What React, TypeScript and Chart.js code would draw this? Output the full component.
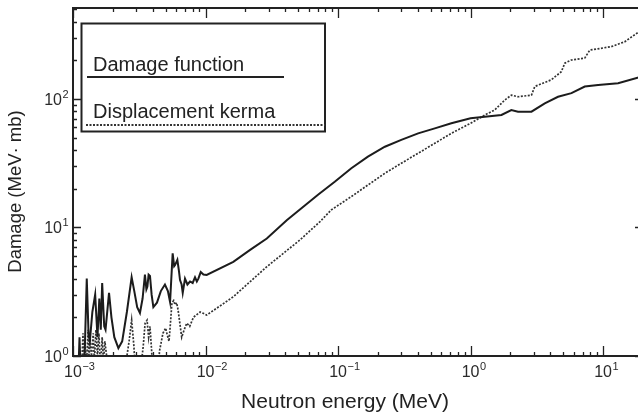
import React, { useEffect, useRef } from 'react';
import { Chart, registerables } from 'chart.js';

Chart.register(...registerables);

// ---- data (energy in MeV, damage in MeV·mb) ----
const damageEnergy = [
  1.0e-3, 1.10e-3, 1.12e-3, 1.14e-3, 1.22e-3, 1.27e-3, 1.31e-3, 1.34e-3, 1.40e-3, 1.47e-3,
  1.53e-3, 1.58e-3, 1.62e-3, 1.66e-3, 1.72e-3, 1.76e-3, 1.87e-3, 1.95e-3, 2.05e-3, 2.20e-3,
  2.35e-3, 2.55e-3, 2.77e-3, 2.90e-3, 3.05e-3, 3.20e-3, 3.35e-3, 3.49e-3, 3.58e-3, 3.64e-3,
  3.72e-3, 3.81e-3, 3.92e-3, 4.04e-3, 4.30e-3, 4.60e-3, 4.94e-3, 5.20e-3, 5.40e-3, 5.65e-3,
  5.80e-3, 5.89e-3, 6.13e-3, 6.30e-3, 6.42e-3, 6.60e-3, 6.73e-3, 7.00e-3, 7.30e-3, 7.64e-3,
  8.00e-3, 8.33e-3, 8.60e-3, 8.83e-3, 9.20e-3, 9.64e-3, 1.02e-2, 1.62e-2, 2.17e-2, 2.9e-2,
  4.1e-2, 7.06e-2, 9.44e-2, 0.126, 0.168, 0.2256, 0.30, 0.402, 0.537, 0.716,
  1.0, 1.28, 1.71, 2.03, 2.28, 2.88, 3.63, 4.57, 5.77, 7.27,
  9.17, 12.97, 20.0,
];
const damageValue = [
  0.8, 0.8, 1.4, 0.8, 0.9, 4.0, 1.5, 1.3, 2.2, 3.0,
  1.4, 2.8, 1.6, 3.7, 1.7, 1.6, 3.1, 2.0, 1.4, 1.15,
  1.3, 2.2, 4.1, 3.2, 2.4, 2.16, 2.8, 4.3, 3.3, 3.45,
  4.3, 4.2, 3.0, 2.4, 2.6, 3.2, 3.6, 3.2, 2.63, 6.3,
  5.0, 5.1, 5.6, 4.6, 3.9, 3.6, 3.1, 4.0, 3.6, 3.8,
  3.7, 4.1, 3.8, 4.0, 4.5, 4.3, 4.27, 5.4, 6.7, 8.2,
  11.4, 18.0, 22.7, 28.9, 35.6, 42.5, 48, 54, 59, 64.7,
  70.8, 72.8, 75, 82, 79.6, 79.6, 92.5, 104, 111, 125,
  128.5, 132.5, 150,
];

const kermaEnergy = [
  1.0e-3, 1.15e-3, 1.19e-3, 1.21e-3, 1.23e-3, 1.26e-3, 1.30e-3, 1.32e-3, 1.34e-3, 1.38e-3,
  1.42e-3, 1.45e-3, 1.49e-3, 1.53e-3, 1.57e-3, 1.61e-3, 1.66e-3, 1.70e-3, 1.74e-3, 1.84e-3,
  1.97e-3, 2.20e-3, 2.47e-3, 2.65e-3, 2.77e-3, 2.88e-3, 2.99e-3, 3.20e-3, 3.39e-3, 3.50e-3,
  3.62e-3, 3.72e-3, 3.81e-3, 3.92e-3, 4.01e-3, 4.28e-3, 4.50e-3, 4.77e-3, 5.00e-3, 5.11e-3,
  5.30e-3, 5.39e-3, 5.58e-3, 5.75e-3, 5.89e-3, 6.05e-3, 6.20e-3, 6.40e-3, 6.61e-3, 6.90e-3,
  7.22e-3, 7.60e-3, 8.10e-3, 8.60e-3, 9.10e-3, 9.60e-3, 1.02e-2, 1.62e-2, 2.9e-2, 5.16e-2,
  7.31e-2, 8.89e-2, 0.126, 0.168, 0.2256, 0.30, 0.402, 0.537, 0.716, 1.0,
  1.28, 1.52, 1.81, 2.03, 2.28, 2.88, 3.05, 4.07, 4.84, 5.14,
  5.77, 7.27, 7.94, 11.5, 14.6, 20.0,
];
const kermaValue = [
  0.5, 0.6, 1.5, 0.7, 1.3, 0.8, 1.6, 0.9, 1.4, 1.0,
  1.5, 0.9, 1.6, 1.0, 1.5, 0.8, 1.4, 0.9, 1.3, 0.8,
  0.6, 0.5, 0.8, 1.3, 1.9, 1.2, 0.6, 0.7, 1.2, 1.8,
  1.9, 1.4, 1.7, 1.1, 0.7, 0.6, 1.1, 1.5, 1.65, 1.5,
  1.3, 1.6, 2.6, 2.7, 2.5, 2.6, 2.3, 1.8, 1.4, 1.6,
  1.8, 1.7, 2.0, 2.1, 2.2, 2.15, 2.08, 2.89, 4.95, 8.0,
  11.1, 13.7, 17.4, 21.4, 26.4, 31.6, 37.8, 45.2, 54, 64.7,
  75, 82, 98, 107, 104, 107, 125, 141, 163, 190,
  201, 208, 240, 255, 279, 350,
];

const seriesLabels = ['Damage function', 'Displacement kerma'];
const xTickValues = [1e-3, 1e-2, 1e-1, 1, 10];
const xTickExponents = ['\u22123', '\u22122', '\u22121', '0', '1'];
const yTickValues = [1, 10, 100];
const yTickExponents = ['0', '1', '2'];
const xTitle = 'Neutron energy (MeV)';
const yTitle = 'Damage (MeV\u00b7 mb)';
const xMin = 1e-3;
const xMax = 20;
const yMin = 1;
const yMax = 510;

const FONT = '"Liberation Sans", Arial, Helvetica, sans-serif';
const INK = '#222222';

const framePlugin = {
  id: 'frameAndDecor',
  afterDraw(chart: any) {
    const ctx = chart.ctx;
    const { left, top, right, bottom } = chart.chartArea;
    const xs = chart.scales.x;
    const ys = chart.scales.y;
    ctx.save();
    ctx.strokeStyle = INK;
    ctx.fillStyle = INK;

    // minor/major ticks
    ctx.lineWidth = 1.3;
    ctx.beginPath();
    for (let e = -3; e <= 1; e++) {
      for (let k = 1; k <= 9; k++) {
        const v = k * Math.pow(10, e);
        if (v < xMin || v > xMax) continue;
        const px = Math.round(xs.getPixelForValue(v)) + 0.5;
        const len = k === 1 ? 10 : 4;
        ctx.moveTo(px, bottom);
        ctx.lineTo(px, bottom - len);
        ctx.moveTo(px, top);
        ctx.lineTo(px, top + len);
      }
    }
    for (let e = 0; e <= 2; e++) {
      for (let k = 1; k <= 9; k++) {
        const v = k * Math.pow(10, e);
        if (v < yMin || v > yMax) continue;
        const py = Math.round(ys.getPixelForValue(v)) + 0.5;
        const len = k === 1 ? 8 : 4;
        ctx.moveTo(left, py);
        ctx.lineTo(left + len, py);
        ctx.moveTo(right, py);
        ctx.lineTo(right - len, py);
      }
    }
    ctx.stroke();

    // frame
    ctx.lineWidth = 2;
    ctx.beginPath();
    ctx.moveTo(right, top);
    ctx.lineTo(left, top);
    ctx.lineTo(left, bottom);
    ctx.lineTo(right, bottom);
    ctx.lineTo(right, top);
    ctx.stroke();

    // tick labels
    ctx.fillStyle = '#2a2a2a';
    xTickValues.forEach((v, i) => {
      const px = xs.getPixelForValue(v);
      ctx.font = `16px ${FONT}`;
      ctx.textAlign = 'center';
      ctx.textBaseline = 'alphabetic';
      const w = ctx.measureText('10').width;
      ctx.fillText('10', px, 377);
      ctx.font = `11px ${FONT}`;
      ctx.textAlign = 'left';
      ctx.fillText(xTickExponents[i], px + w / 2 + 0.5, 370);
    });
    yTickValues.forEach((v, i) => {
      const py = ys.getPixelForValue(v);
      ctx.font = `16px ${FONT}`;
      ctx.textAlign = 'right';
      ctx.textBaseline = 'alphabetic';
      ctx.fillText('10', 62, py + 6);
      ctx.font = `11px ${FONT}`;
      ctx.textAlign = 'left';
      ctx.fillText(yTickExponents[i], 62.5, py - 1);
    });

    // axis titles
    ctx.fillStyle = '#222';
    ctx.font = `21px ${FONT}`;
    ctx.textAlign = 'center';
    ctx.textBaseline = 'alphabetic';
    ctx.fillText(xTitle, 345, 408);
    ctx.save();
    ctx.translate(21, 191.5);
    ctx.rotate(-Math.PI / 2);
    ctx.font = `18.5px ${FONT}`;
    ctx.fillText(yTitle, 0, 0);
    ctx.restore();

    // legend box
    ctx.lineWidth = 2;
    ctx.strokeStyle = INK;
    ctx.strokeRect(81.5, 23.5, 243.5, 108);
    ctx.font = `20px ${FONT}`;
    ctx.textAlign = 'left';
    ctx.fillStyle = '#222';
    ctx.fillText(seriesLabels[0], 93, 71);
    ctx.fillText(seriesLabels[1], 93, 118);
    ctx.beginPath();
    ctx.lineWidth = 2;
    ctx.moveTo(87, 77);
    ctx.lineTo(284, 77);
    ctx.stroke();
    ctx.beginPath();
    ctx.setLineDash([2, 1.5]);
    ctx.lineWidth = 1.8;
    ctx.strokeStyle = '#333';
    ctx.moveTo(86, 125);
    ctx.lineTo(325, 125);
    ctx.stroke();
    ctx.setLineDash([]);
    ctx.restore();
  },
};

export default function App() {
  const canvasRef = useRef<HTMLCanvasElement | null>(null);

  useEffect(() => {
    const canvas = canvasRef.current;
    if (!canvas) return;
    const chart = new Chart(canvas, {
      type: 'line',
      data: {
        datasets: [
          {
            label: seriesLabels[0],
            data: damageEnergy.map((x, i) => ({ x, y: damageValue[i] })),
            borderColor: '#1c1c1c',
            borderWidth: 2,
            pointRadius: 0,
            tension: 0,
            fill: false,
            clip: 0,
          },
          {
            label: seriesLabels[1],
            data: kermaEnergy.map((x, i) => ({ x, y: kermaValue[i] })),
            borderColor: '#333333',
            borderWidth: 1.7,
            borderDash: [2, 1.5],
            pointRadius: 0,
            tension: 0,
            fill: false,
            clip: 0,
          },
        ],
      },
      options: {
        animation: false,
        responsive: false,
        maintainAspectRatio: false,
        layout: { padding: { left: 73, top: 8, right: 2, bottom: 59 } },
        scales: {
          x: { type: 'logarithmic', min: xMin, max: xMax, display: false },
          y: { type: 'logarithmic', min: yMin, max: yMax, display: false },
        },
        plugins: {
          legend: { display: false },
          tooltip: { enabled: false },
        },
      },
      plugins: [framePlugin],
    } as any);
    return () => chart.destroy();
  }, []);

  return (
    <div
      style={{
        position: 'fixed',
        left: 0,
        top: 0,
        width: 638,
        height: 415,
        overflow: 'hidden',
        background: '#fff',
      }}
    >
      <canvas ref={canvasRef} width={645} height={415} style={{ display: 'block', width: 645, height: 415 }} />
    </div>
  );
}
